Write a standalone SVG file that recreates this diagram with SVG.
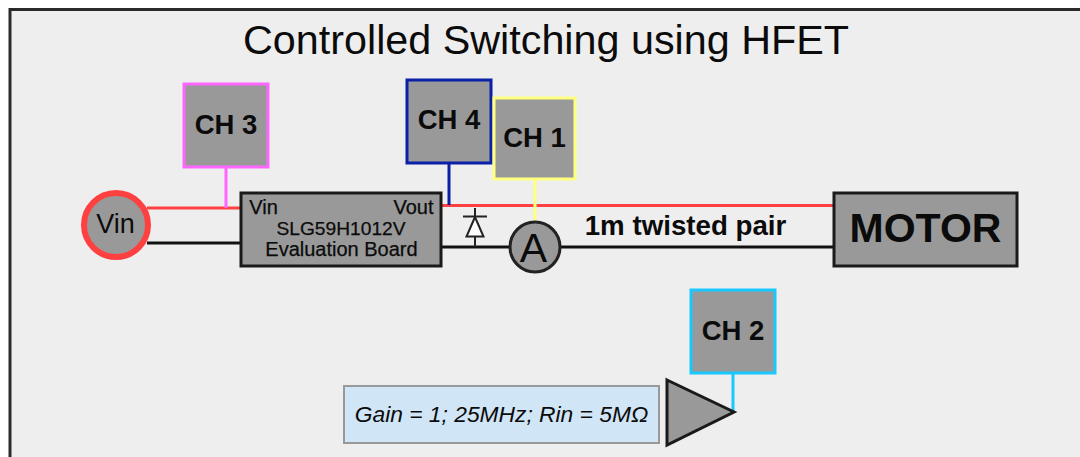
<svg xmlns="http://www.w3.org/2000/svg" width="1080" height="457" viewBox="0 0 1080 457">
<style>
text{font-family:"Liberation Sans",Arial,sans-serif;fill:#0b0b0b;text-anchor:middle}
.b{font-weight:bold}
.ch{fill:#999;stroke-width:3}
.blk{fill:#999;stroke:#1a1a1a}
.w{fill:none;stroke-linecap:butt}
.s{font-size:20px;stroke:#0b0b0b;stroke-width:.25}
</style>
<rect width="1080" height="457" fill="#fff"/>
<rect x="10" y="9.500" width="1075" height="460" fill="#eee" stroke="#2a2a2a" stroke-width="3"/>
<text id="title" x="546" y="54" font-size="41.300">Controlled Switching using HFET</text>
<g id="connectors" class="w">
<path d="M147 208H241" stroke="#ff4040" stroke-width="3"/>
<path d="M147 243H241" stroke="#111" stroke-width="3"/>
<path d="M441 205.500H834" stroke="#ff4040" stroke-width="3"/>
<path d="M441 247H834" stroke="#111" stroke-width="3"/>
<path d="M226 167V208" stroke="#ff66ff" stroke-width="3"/>
<path d="M449 163V205" stroke="#0b1fa8" stroke-width="3"/>
<path d="M535 180V222" stroke="#ffff80" stroke-width="3"/>
<path d="M733 373V412" stroke="#19c8ff" stroke-width="3"/>
</g>
<g id="diode" fill="#fff" stroke="#222" stroke-width="2">
<path d="M475 208V247" fill="none"/>
<path d="M463 216.500H487" fill="none"/>
<path d="M475 217L466.500 236.500H483.500Z"/>
</g>
<g id="vin"><circle cx="116" cy="225" r="32" fill="#999" stroke="#ff4040" stroke-width="6"/><text x="115.500" y="233" font-size="27">Vin</text></g>
<g id="ch3"><rect class="ch" x="184" y="84" width="84" height="83" stroke="#ff66ff"/><text class="b" x="226" y="134" font-size="27.500">CH 3</text></g>
<g id="ch4"><rect class="ch" x="407" y="80" width="84" height="83" stroke="#0b1fa8"/><text class="b" x="449" y="129" font-size="27.500">CH 4</text></g>
<g id="ch1"><rect class="ch" x="494" y="98" width="81" height="81" stroke="#ffff80"/><text class="b" x="534.500" y="147" font-size="27.500">CH 1</text></g>
<g id="ch2"><rect class="ch" x="691" y="290" width="84" height="83" stroke="#19c8ff"/><text class="b" x="733" y="340" font-size="27.500">CH 2</text></g>
<g id="board"><rect class="blk" x="241" y="193" width="200" height="73" stroke-width="3"/>
<text class="s" x="263.500" y="214">Vin</text><text class="s" x="413.500" y="214">Vout</text>
<text class="s" x="341" y="235" style="font-size:19.200px">SLG59H1012V</text><text class="s" x="341.500" y="256">Evaluation Board</text></g>
<g id="ammeter"><circle cx="535" cy="247" r="25" fill="#999" stroke="#222" stroke-width="3"/><text x="533.500" y="262" font-size="41">A</text></g>
<text id="cable" class="b" x="685.500" y="235" font-size="27.700">1m twisted pair</text>
<g id="motor"><rect class="blk" x="834" y="193" width="183" height="73" stroke-width="3"/><text class="b" x="925.500" y="242" font-size="41">MOTOR</text></g>
<g id="gain"><rect x="344" y="386" width="315" height="57" fill="#d0e5f5" stroke="#999" stroke-width="2"/><text x="501.500" y="422" font-size="22.800" font-style="italic">Gain = 1; 25MHz; Rin = 5MΩ</text></g>
<g id="amp"><path d="M667 380L734 412L667 445Z" fill="#999" stroke="#1a1a1a" stroke-width="3"/></g>
</svg>
